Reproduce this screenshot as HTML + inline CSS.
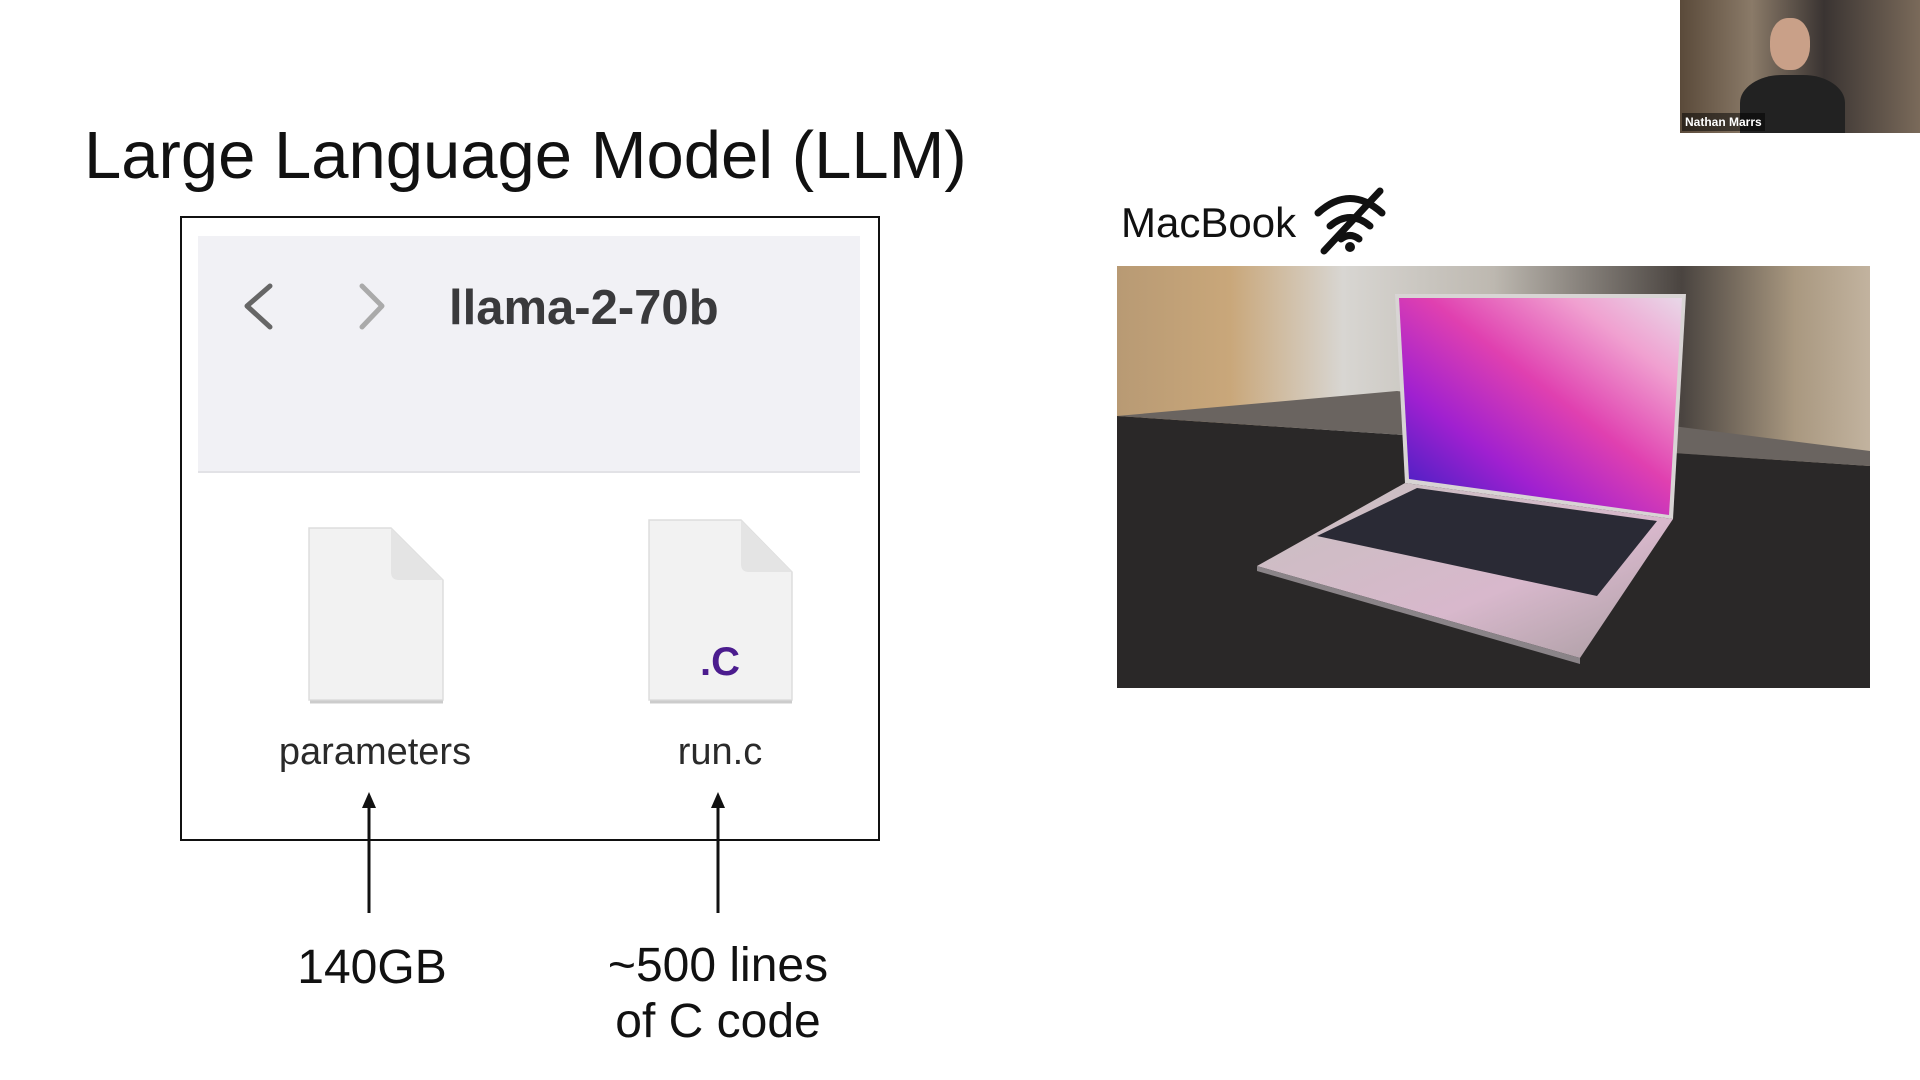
<!DOCTYPE html>
<html><head><meta charset="utf-8"><style>
html,body{margin:0;padding:0;background:#fff;width:1920px;height:1080px;overflow:hidden;font-family:"Liberation Sans",sans-serif}
.a{position:absolute}
</style></head><body>
<div class="a" style="left:84px;top:117px;font-size:67px;color:#111;white-space:nowrap">Large Language Model (LLM)</div>

<div class="a" style="left:180px;top:216px;width:696px;height:621px;border:2px solid #111"></div>
<div class="a" style="left:198px;top:236px;width:662px;height:235px;background:#f1f1f5;border-bottom:2px solid #e2e2e6"></div>
<svg class="a" style="left:0;top:0" width="1920" height="1080">
<polyline points="270,286 247,306 270,327" fill="none" stroke="#666" stroke-width="5" stroke-linecap="round" stroke-linejoin="round"/>
<polyline points="362,286 382,306 362,327" fill="none" stroke="#aaa" stroke-width="5" stroke-linecap="round" stroke-linejoin="round"/>
<path d="M309,528 L391,528 L443,580 L443,700 L309,700 Z" fill="#f2f2f2" stroke="#ddd" stroke-width="1.5"/>
<path d="M391,528 L391,572 Q391,580 399,580 L443,580 Z" fill="#e4e4e4"/>
<path d="M649,520 L741,520 L792,572 L792,700 L649,700 Z" fill="#f2f2f2" stroke="#ddd" stroke-width="1.5"/>
<path d="M741,520 L741,564 Q741,572 749,572 L792,572 Z" fill="#e4e4e4"/>
<line x1="310" y1="702" x2="443" y2="702" stroke="#ccc" stroke-width="3"/>
<line x1="650" y1="702" x2="792" y2="702" stroke="#ccc" stroke-width="3"/>
<line x1="369" y1="913" x2="369" y2="805" stroke="#111" stroke-width="3"/>
<polygon points="369,792 362,808 376,808" fill="#111"/>
<line x1="718" y1="913" x2="718" y2="805" stroke="#111" stroke-width="3"/>
<polygon points="718,792 711,808 725,808" fill="#111"/>
<g fill="none" stroke="#111" stroke-width="7" stroke-linecap="round">
<path d="M1318,213 Q1350,184 1382,213"/>
<path d="M1330,226 Q1350,209 1370,226"/>
<path d="M1341,239 Q1350,232 1359,239"/>
<line x1="1324" y1="251" x2="1380" y2="191"/>
</g>
<circle cx="1350" cy="247" r="5" fill="#111"/>
</svg>
<div class="a" style="left:449px;top:280px;font-size:49px;font-weight:bold;color:#3a3a3c">llama-2-70b</div>
<div class="a" style="left:700px;top:640px;font-size:40px;font-weight:bold;color:#4b1c8e">.C</div>
<div class="a" style="left:235px;top:731px;width:280px;text-align:center;font-size:38px;color:#2a2a2a">parameters</div>
<div class="a" style="left:580px;top:731px;width:280px;text-align:center;font-size:38px;color:#2a2a2a">run.c</div>
<div class="a" style="left:232px;top:940px;width:280px;text-align:center;font-size:48px;color:#111">140GB</div>
<div class="a" style="left:558px;top:938px;width:320px;text-align:center;font-size:48px;line-height:56px;color:#111">~500 lines<br>of C code</div>
<div class="a" style="left:1121px;top:199px;font-size:42px;color:#111">MacBook</div>

<svg class="a" style="left:1117px;top:266px" width="753" height="422" viewBox="0 0 753 422">
<defs>
<linearGradient id="bg" x1="0" x2="1"><stop offset="0" stop-color="#b89a74"/><stop offset=".15" stop-color="#c9a77a"/><stop offset=".3" stop-color="#d8d6d2"/><stop offset=".5" stop-color="#bdb8b0"/><stop offset=".75" stop-color="#4a4440"/><stop offset=".9" stop-color="#a99880"/><stop offset="1" stop-color="#c2b39f"/></linearGradient>
<linearGradient id="scr" x1="0" y1="1" x2="1" y2="0"><stop offset="0" stop-color="#3020c0"/><stop offset=".3" stop-color="#a020d0"/><stop offset=".55" stop-color="#e040b0"/><stop offset=".8" stop-color="#f0a0d0"/><stop offset="1" stop-color="#e8d8e8"/></linearGradient>
<linearGradient id="base" x1="0" y1="0" x2="1" y2="1"><stop offset="0" stop-color="#c8c0c0"/><stop offset=".6" stop-color="#d8b8cc"/><stop offset="1" stop-color="#a89ca0"/></linearGradient>
</defs>
<rect width="753" height="422" fill="url(#bg)"/>
<polygon points="0,150 753,200 753,422 0,422" fill="#2a2828"/>
<polygon points="0,150 280,125 753,185 753,200" fill="#6a6460"/>
<polygon points="278,28 569,28 556,253 288,217" fill="#d8d4d4"/>
<polygon points="282,32 565,32 552,249 292,213" fill="url(#scr)"/>
<polygon points="288,217 556,253 463,392 140,300" fill="url(#base)"/>
<polygon points="300,222 540,255 480,330 200,270" fill="#2a2a35"/>
<polygon points="140,300 463,392 463,398 140,305" fill="#8a8488"/>
</svg>

<div class="a" style="left:1680px;top:0;width:240px;height:133px;background:linear-gradient(90deg,#5a4a3a,#8a7a68 30%,#3a3432 60%,#7a6a5a);overflow:hidden">
<div class="a" style="left:90px;top:18px;width:40px;height:52px;border-radius:45%;background:#c9a088"></div>
<div class="a" style="left:60px;top:75px;width:105px;height:70px;border-radius:40% 40% 0 0;background:#222"></div>
<div class="a" style="left:2px;top:113px;padding:0 3px;background:rgba(0,0,0,.5);color:#fff;font-size:12px;font-weight:bold;line-height:18px">Nathan Marrs</div>
</div>
</body></html>
